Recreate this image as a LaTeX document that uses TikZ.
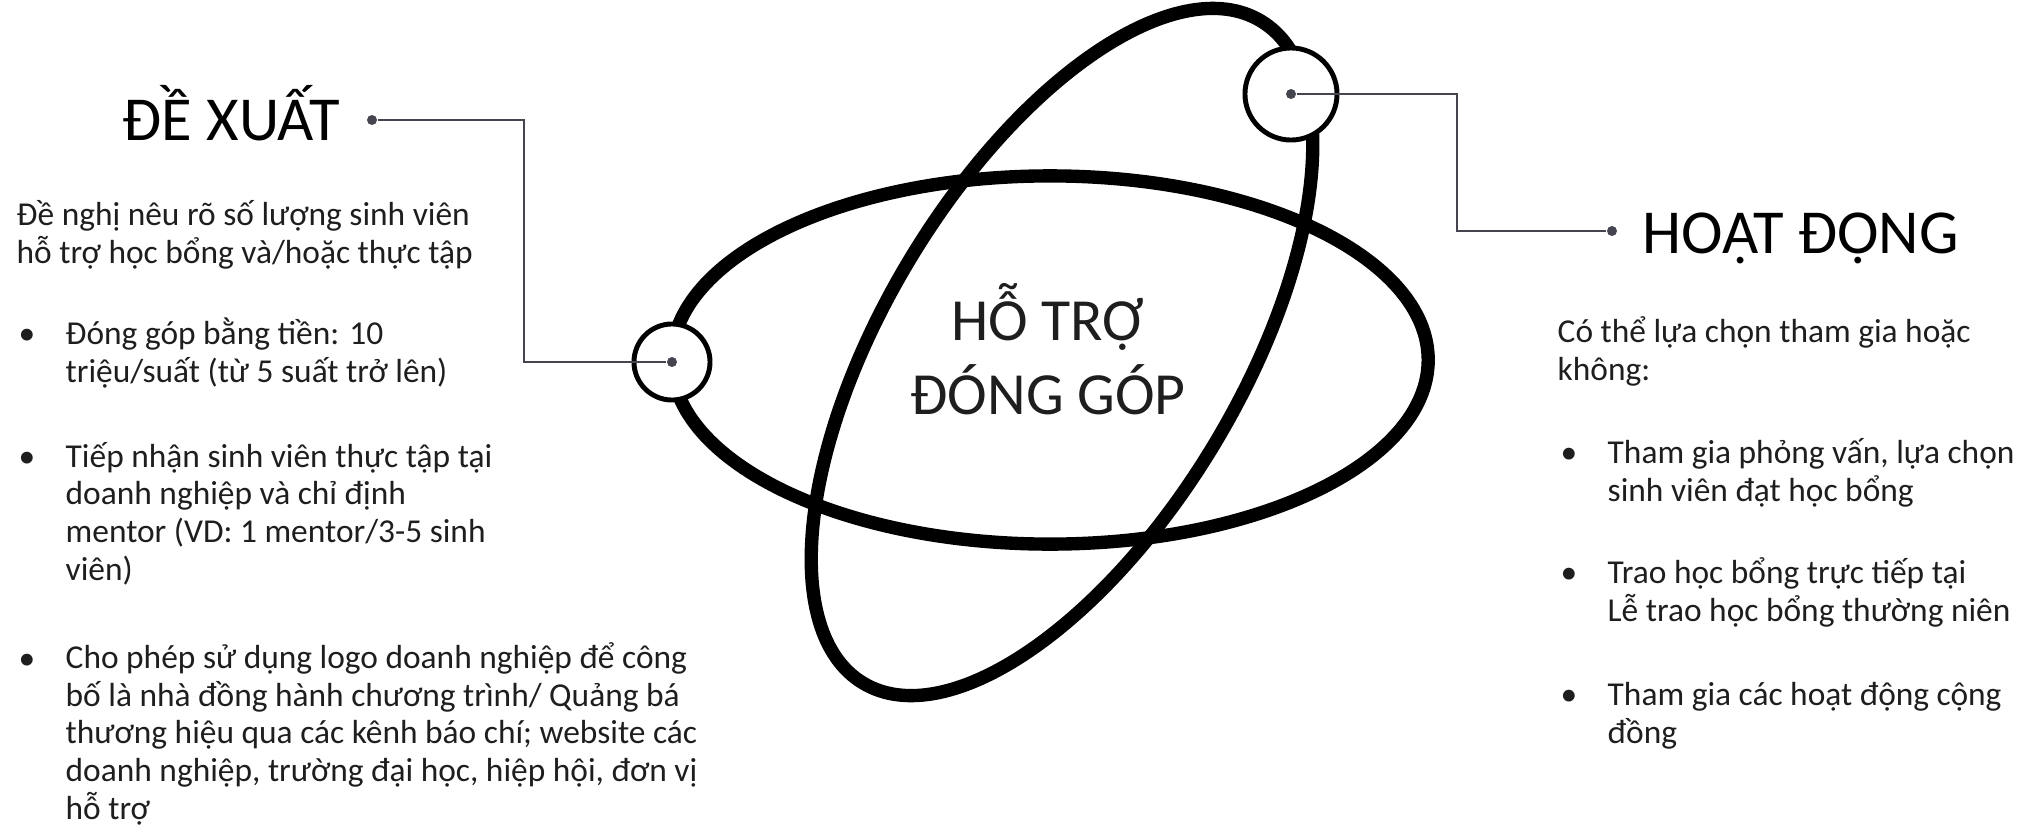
\documentclass[tikz,border=0pt]{standalone}
\usepackage{fontspec}
\setmainfont{Carlito}
\usetikzlibrary{positioning}
\definecolor{linkgray}{HTML}{45454F}
\definecolor{textgray}{HTML}{1E1E1E}

\begin{document}
\begin{tikzpicture}[x=0.01cm, y=-0.01cm,
    orbit/.style={line width=3.8pt, draw=black},
    ring/.style={circle, draw=black, line width=1.4pt, fill=white, inner sep=0pt},
    pin/.style={circle, fill=linkgray, inner sep=0pt, minimum size=0.1cm},
    link/.style={line width=0.8pt, draw=linkgray},
    head/.style={font=\fontsize{17.8}{21}\selectfont, inner sep=0pt, anchor=base west},
    core/.style={font=\fontsize{17}{20.8}\selectfont, inner sep=0pt, anchor=base, align=center, text=textgray},
    body/.style={font=\fontsize{9.5}{10.7}\selectfont, inner sep=0pt, anchor=base west, align=left, text=textgray}]
    \useasboundingbox (0,0) rectangle (2029,830);

    % Quy dao
    \coordinate (o1) at (1050,360);
    \coordinate (o2) at (1062,352);
    \draw[orbit] (o1) ellipse [x radius=3.78cm, y radius=1.84cm];
    \draw[orbit, rotate around={59:(o2)}] (o2) ellipse [x radius=3.86cm, y radius=1.78cm];
    \node[core] (tc) at (1048,414) {HỖ TRỢ\\ĐÓNG GÓP};

    % Hai vong nho
    \node[ring, minimum size=0.76cm] (cL) at (672,362) {};
    \node[ring, minimum size=0.92cm] (cR) at (1291,94) {};
    \node[pin] (pL) at (cL.center) {};
    \node[pin] (pR) at (cR.center) {};

    % De xuat
    \node[head] (hL) at (122,140) {ĐỀ XUẤT};
    \node[pin] (pA) at (372,120) {};
    \coordinate (kL) at (524,362);
    \draw[link] (pA) -| (kL) -- (pL);

    % Hoat dong
    \node[head] (hR) at (1642,253) {HOẠT ĐỘNG};
    \node[pin] (pB) at (1612,231) {};
    \coordinate (kR) at (1457,94);
    \draw[link] (pR) -- (kR) |- (pB);

    % Noi dung trai (base = dong cuoi)
    \node[body] (l0) at (16,263) {Đề nghị nêu rõ số lượng sinh viên\\hỗ trợ học bổng và/hoặc thực tập};
    \node[body] (l1) at (65,382) {Đóng góp bằng tiền: 10\\triệu/suất (từ 5 suất trở lên)};
    \node[body] (l2) at (65,580) {Tiếp nhận sinh viên thực tập tại\\doanh nghiệp và chỉ định\\mentor (VD: 1 mentor/3-5 sinh\\viên)};
    \node[body] (l3) at (65,819) {Cho phép sử dụng logo doanh nghiệp để công\\bố là nhà đồng hành chương trình/ Quảng bá\\thương hiệu qua các kênh báo chí; website các\\doanh nghiệp, trường đại học, hiệp hội, đơn vị\\hỗ trợ};
    \foreach \y [count=\i] in {344,467,669}
      \node[body] (bl\i) at (18,\y) {•};

    % Noi dung phai
    \node[body] (r0) at (1557,380) {Có thể lựa chọn tham gia hoặc\\không:};
    \node[body] (r1) at (1607,501) {Tham gia phỏng vấn, lựa chọn\\sinh viên đạt học bổng};
    \node[body] (r2) at (1607,621) {Trao học bổng trực tiếp tại\\Lễ trao học bổng thường niên};
    \node[body] (r3) at (1607,743) {Tham gia các hoạt động cộng\\đồng};
    \foreach \y [count=\i] in {463,583,705}
      \node[body] (br\i) at (1560,\y) {•};
\end{tikzpicture}
\end{document}
